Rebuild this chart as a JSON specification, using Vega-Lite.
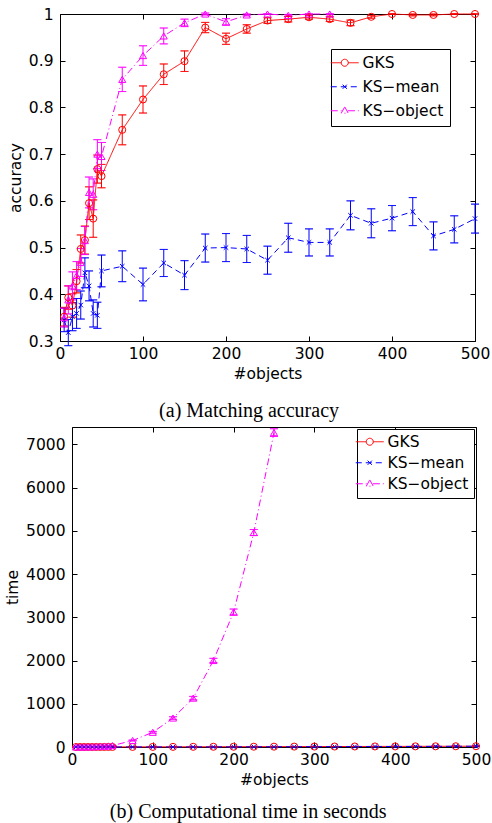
{
  "$schema": "https://vega.github.io/schema/vega-lite/v6.json",
  "background": "white",
  "padding": {"left": 5, "top": 7, "right": 5, "bottom": 5},
  "spacing": 5,
  "resolve": {"scale": {"color": "independent", "strokeDash": "independent", "shape": "independent"}, "legend": {"color": "independent", "strokeDash": "independent", "shape": "independent"}},
  "config": {
    "font": "DejaVu Sans",
    "view": {"stroke": null},
    "axis": {"domainColor": "black", "tickColor": "black", "labelColor": "black", "titleColor": "black", "labelFont": "DejaVu Sans", "titleFont": "DejaVu Sans", "labelFontSize": 15.5, "titleFontSize": 15.5, "titleFontWeight": "normal", "grid": false, "tickSize": -5, "domainWidth": 1, "tickWidth": 1, "labelFlush": false},
    "legend": {"title": null, "orient": "none", "fillColor": "white", "strokeColor": "black", "labelFont": "DejaVu Sans", "labelColor": "black", "labelOffset": 10, "symbolSize": 196, "symbolStrokeWidth": 1, "symbolFillColor": "transparent"}
  },
  "datasets": {
    "acc": [
      {"n": 5, "method": "GKS", "value": 0.352, "err": 0.02},
      {"n": 10, "method": "GKS", "value": 0.393, "err": 0.025},
      {"n": 15, "method": "GKS", "value": 0.376, "err": 0.025},
      {"n": 20, "method": "GKS", "value": 0.428, "err": 0.025},
      {"n": 25, "method": "GKS", "value": 0.497, "err": 0.03},
      {"n": 30, "method": "GKS", "value": 0.516, "err": 0.03},
      {"n": 35, "method": "GKS", "value": 0.595, "err": 0.035},
      {"n": 40, "method": "GKS", "value": 0.562, "err": 0.04},
      {"n": 45, "method": "GKS", "value": 0.668, "err": 0.03},
      {"n": 50, "method": "GKS", "value": 0.653, "err": 0.025},
      {"n": 75, "method": "GKS", "value": 0.752, "err": 0.032},
      {"n": 100, "method": "GKS", "value": 0.817, "err": 0.029},
      {"n": 125, "method": "GKS", "value": 0.871, "err": 0.022},
      {"n": 150, "method": "GKS", "value": 0.899, "err": 0.022},
      {"n": 175, "method": "GKS", "value": 0.971, "err": 0.011},
      {"n": 200, "method": "GKS", "value": 0.947, "err": 0.012},
      {"n": 225, "method": "GKS", "value": 0.968, "err": 0.009},
      {"n": 250, "method": "GKS", "value": 0.986, "err": 0.006},
      {"n": 275, "method": "GKS", "value": 0.989, "err": 0.006},
      {"n": 300, "method": "GKS", "value": 0.993, "err": 0.004},
      {"n": 325, "method": "GKS", "value": 0.989, "err": 0.005},
      {"n": 350, "method": "GKS", "value": 0.981, "err": 0.006},
      {"n": 375, "method": "GKS", "value": 0.994, "err": 0.003},
      {"n": 400, "method": "GKS", "value": 1.0, "err": 0},
      {"n": 425, "method": "GKS", "value": 0.998, "err": 0.002},
      {"n": 450, "method": "GKS", "value": 0.998, "err": 0.002},
      {"n": 475, "method": "GKS", "value": 1.0, "err": 0},
      {"n": 500, "method": "GKS", "value": 1.0, "err": 0},
      {"n": 5, "method": "KS−mean", "value": 0.345, "err": 0.025},
      {"n": 10, "method": "KS−mean", "value": 0.318, "err": 0.028},
      {"n": 15, "method": "KS−mean", "value": 0.352, "err": 0.03},
      {"n": 20, "method": "KS−mean", "value": 0.359, "err": 0.032},
      {"n": 25, "method": "KS−mean", "value": 0.377, "err": 0.03},
      {"n": 30, "method": "KS−mean", "value": 0.446, "err": 0.032},
      {"n": 35, "method": "KS−mean", "value": 0.418, "err": 0.032},
      {"n": 40, "method": "KS−mean", "value": 0.359, "err": 0.029},
      {"n": 45, "method": "KS−mean", "value": 0.355, "err": 0.028},
      {"n": 50, "method": "KS−mean", "value": 0.45, "err": 0.034},
      {"n": 75, "method": "KS−mean", "value": 0.46, "err": 0.033},
      {"n": 100, "method": "KS−mean", "value": 0.421, "err": 0.035},
      {"n": 125, "method": "KS−mean", "value": 0.467, "err": 0.029},
      {"n": 150, "method": "KS−mean", "value": 0.441, "err": 0.031},
      {"n": 175, "method": "KS−mean", "value": 0.499, "err": 0.03},
      {"n": 200, "method": "KS−mean", "value": 0.5, "err": 0.03},
      {"n": 225, "method": "KS−mean", "value": 0.497, "err": 0.029},
      {"n": 250, "method": "KS−mean", "value": 0.473, "err": 0.03},
      {"n": 275, "method": "KS−mean", "value": 0.521, "err": 0.031},
      {"n": 300, "method": "KS−mean", "value": 0.511, "err": 0.029},
      {"n": 325, "method": "KS−mean", "value": 0.511, "err": 0.029},
      {"n": 350, "method": "KS−mean", "value": 0.569, "err": 0.031},
      {"n": 375, "method": "KS−mean", "value": 0.552, "err": 0.031},
      {"n": 400, "method": "KS−mean", "value": 0.563, "err": 0.027},
      {"n": 425, "method": "KS−mean", "value": 0.577, "err": 0.03},
      {"n": 450, "method": "KS−mean", "value": 0.525, "err": 0.03},
      {"n": 475, "method": "KS−mean", "value": 0.539, "err": 0.029},
      {"n": 500, "method": "KS−mean", "value": 0.562, "err": 0.031},
      {"n": 5, "method": "KS−object", "value": 0.35, "err": 0.02},
      {"n": 10, "method": "KS−object", "value": 0.388, "err": 0.03},
      {"n": 15, "method": "KS−object", "value": 0.418, "err": 0.03},
      {"n": 20, "method": "KS−object", "value": 0.44, "err": 0.03},
      {"n": 25, "method": "KS−object", "value": 0.468, "err": 0.03},
      {"n": 30, "method": "KS−object", "value": 0.515, "err": 0.03},
      {"n": 35, "method": "KS−object", "value": 0.618, "err": 0.033},
      {"n": 40, "method": "KS−object", "value": 0.614, "err": 0.033},
      {"n": 45, "method": "KS−object", "value": 0.7, "err": 0.031},
      {"n": 50, "method": "KS−object", "value": 0.695, "err": 0.03},
      {"n": 75, "method": "KS−object", "value": 0.86, "err": 0.026},
      {"n": 100, "method": "KS−object", "value": 0.911, "err": 0.021},
      {"n": 125, "method": "KS−object", "value": 0.953, "err": 0.017},
      {"n": 150, "method": "KS−object", "value": 0.981, "err": 0.008},
      {"n": 175, "method": "KS−object", "value": 1.0, "err": 0.002},
      {"n": 200, "method": "KS−object", "value": 0.983, "err": 0.007},
      {"n": 225, "method": "KS−object", "value": 0.998, "err": 0.002},
      {"n": 250, "method": "KS−object", "value": 1.0, "err": 0},
      {"n": 275, "method": "KS−object", "value": 0.997, "err": 0.002},
      {"n": 300, "method": "KS−object", "value": 1.0, "err": 0},
      {"n": 325, "method": "KS−object", "value": 1.0, "err": 0}
    ],
    "time": [
      {"n": 5, "method": "GKS", "value": 0.05, "err": 0},
      {"n": 10, "method": "GKS", "value": 0.1, "err": 0},
      {"n": 15, "method": "GKS", "value": 0.2, "err": 0},
      {"n": 20, "method": "GKS", "value": 0.3, "err": 0},
      {"n": 25, "method": "GKS", "value": 0.4, "err": 0},
      {"n": 30, "method": "GKS", "value": 0.5, "err": 0},
      {"n": 35, "method": "GKS", "value": 0.6, "err": 0},
      {"n": 40, "method": "GKS", "value": 0.8, "err": 0},
      {"n": 45, "method": "GKS", "value": 0.9, "err": 0},
      {"n": 50, "method": "GKS", "value": 1.0, "err": 0},
      {"n": 75, "method": "GKS", "value": 1.8, "err": 0},
      {"n": 100, "method": "GKS", "value": 2.5, "err": 0},
      {"n": 125, "method": "GKS", "value": 3.3, "err": 0},
      {"n": 150, "method": "GKS", "value": 4.2, "err": 0},
      {"n": 175, "method": "GKS", "value": 5, "err": 0},
      {"n": 200, "method": "GKS", "value": 6, "err": 0},
      {"n": 225, "method": "GKS", "value": 7, "err": 0},
      {"n": 250, "method": "GKS", "value": 8, "err": 0},
      {"n": 275, "method": "GKS", "value": 9, "err": 0},
      {"n": 300, "method": "GKS", "value": 10, "err": 0},
      {"n": 325, "method": "GKS", "value": 11, "err": 0},
      {"n": 350, "method": "GKS", "value": 12, "err": 0},
      {"n": 375, "method": "GKS", "value": 13, "err": 0},
      {"n": 400, "method": "GKS", "value": 14, "err": 0},
      {"n": 425, "method": "GKS", "value": 15, "err": 0},
      {"n": 450, "method": "GKS", "value": 16, "err": 0},
      {"n": 475, "method": "GKS", "value": 17, "err": 0},
      {"n": 500, "method": "GKS", "value": 18, "err": 0},
      {"n": 5, "method": "KS−mean", "value": 0.01, "err": 0},
      {"n": 10, "method": "KS−mean", "value": 0.02, "err": 0},
      {"n": 15, "method": "KS−mean", "value": 0.03, "err": 0},
      {"n": 20, "method": "KS−mean", "value": 0.05, "err": 0},
      {"n": 25, "method": "KS−mean", "value": 0.07, "err": 0},
      {"n": 30, "method": "KS−mean", "value": 0.09, "err": 0},
      {"n": 35, "method": "KS−mean", "value": 0.12, "err": 0},
      {"n": 40, "method": "KS−mean", "value": 0.15, "err": 0},
      {"n": 45, "method": "KS−mean", "value": 0.18, "err": 0},
      {"n": 50, "method": "KS−mean", "value": 0.22, "err": 0},
      {"n": 75, "method": "KS−mean", "value": 0.45, "err": 0},
      {"n": 100, "method": "KS−mean", "value": 0.8, "err": 0},
      {"n": 125, "method": "KS−mean", "value": 1.2, "err": 0},
      {"n": 150, "method": "KS−mean", "value": 1.7, "err": 0},
      {"n": 175, "method": "KS−mean", "value": 2.3, "err": 0},
      {"n": 200, "method": "KS−mean", "value": 3, "err": 0},
      {"n": 225, "method": "KS−mean", "value": 3.8, "err": 0},
      {"n": 250, "method": "KS−mean", "value": 4.7, "err": 0},
      {"n": 275, "method": "KS−mean", "value": 5.6, "err": 0},
      {"n": 300, "method": "KS−mean", "value": 6.7, "err": 0},
      {"n": 325, "method": "KS−mean", "value": 7.8, "err": 0},
      {"n": 350, "method": "KS−mean", "value": 9, "err": 0},
      {"n": 375, "method": "KS−mean", "value": 10.3, "err": 0},
      {"n": 400, "method": "KS−mean", "value": 11.7, "err": 0},
      {"n": 425, "method": "KS−mean", "value": 13.2, "err": 0},
      {"n": 450, "method": "KS−mean", "value": 14.8, "err": 0},
      {"n": 475, "method": "KS−mean", "value": 16.5, "err": 0},
      {"n": 500, "method": "KS−mean", "value": 18.3, "err": 0},
      {"n": 5, "method": "KS−object", "value": 0.3, "err": 0.1},
      {"n": 10, "method": "KS−object", "value": 1, "err": 0.3},
      {"n": 15, "method": "KS−object", "value": 2, "err": 0.5},
      {"n": 20, "method": "KS−object", "value": 4, "err": 0.8},
      {"n": 25, "method": "KS−object", "value": 6, "err": 1},
      {"n": 30, "method": "KS−object", "value": 9, "err": 1.5},
      {"n": 35, "method": "KS−object", "value": 13, "err": 2},
      {"n": 40, "method": "KS−object", "value": 18, "err": 2.5},
      {"n": 45, "method": "KS−object", "value": 24, "err": 3},
      {"n": 50, "method": "KS−object", "value": 32, "err": 4},
      {"n": 75, "method": "KS−object", "value": 150, "err": 10},
      {"n": 100, "method": "KS−object", "value": 340, "err": 20},
      {"n": 125, "method": "KS−object", "value": 670, "err": 30},
      {"n": 150, "method": "KS−object", "value": 1130, "err": 40},
      {"n": 175, "method": "KS−object", "value": 2000, "err": 50},
      {"n": 200, "method": "KS−object", "value": 3120, "err": 70},
      {"n": 225, "method": "KS−object", "value": 4960, "err": 70},
      {"n": 250, "method": "KS−object", "value": 7270, "err": 90}
    ]
  },
  "vconcat": [
    {
      "width": 415,
      "height": 327,
      "data": {"name": "acc"},
      "title": {"text": "(a) Matching accuracy", "orient": "bottom", "anchor": "middle", "frame": "bounds", "font": "Liberation Serif", "fontSize": 20, "fontWeight": "normal", "color": "black", "offset": 19},
      "layer": [
        {
          "transform": [{"filter": "false"}],
          "mark": {"type": "point", "filled": false, "strokeWidth": 1, "opacity": 1},
          "encoding": {
            "x": {"field": "n", "type": "quantitative", "axis": null, "scale": {"domain": [0, 500], "nice": false}},
            "y": {"field": "value", "type": "quantitative", "axis": null, "scale": {"domain": [0.3, 1], "nice": false, "zero": false}},
            "color": {"field": "method", "type": "nominal", "scale": {"domain": ["GKS", "KS−mean", "KS−object"], "range": ["#ff0000", "#0000ff", "#ff00ff"]}, "legend": {"legendX": 271, "legendY": 35, "padding": 6, "labelFontSize": 15.5, "rowPadding": 7}},
            "strokeDash": {"field": "method", "type": "nominal", "scale": {"domain": ["GKS", "KS−mean", "KS−object"], "range": [[1, 0], [6, 4], [7, 3, 1, 3]]}, "legend": {"legendX": 271, "legendY": 35, "padding": 6, "labelFontSize": 15.5, "rowPadding": 7}},
            "shape": {"field": "method", "type": "nominal", "scale": {"domain": ["GKS", "KS−mean", "KS−object"], "range": ["M-2,0H-0.5M0.5,0H2M-0.5,0A0.5,0.5 0 1,1 0.5,0A0.5,0.5 0 1,1 -0.5,0", "M-2,0H2M-0.3,-0.3L0.3,0.3M-0.3,0.3L0.3,-0.3", "M-2,0H-0.45M0.45,0H2M0,-0.55L0.5,0.35H-0.5Z"]}, "legend": {"legendX": 271, "legendY": 35, "padding": 6, "labelFontSize": 15.5, "rowPadding": 7}}
          }
        },
        {
          "mark": {"type": "errorbar", "ticks": {"size": 8, "thickness": 0.01, "filled": false, "strokeWidth": 1}, "rule": {"strokeWidth": 1}, "clip": false},
          "encoding": {
            "x": {"field": "n", "type": "quantitative", "axis": null},
            "y": {"field": "value", "type": "quantitative", "axis": null},
            "yError": {"field": "err"},
            "color": {"field": "method", "type": "nominal"}
          }
        },
        {
          "mark": {"type": "line", "strokeWidth": 1},
          "encoding": {
            "x": {"field": "n", "type": "quantitative", "axis": {"orient": "bottom", "values": [0, 100, 200, 300, 400, 500], "format": "d", "title": "#objects", "labelPadding": 10, "titlePadding": 5}},
            "y": {"field": "value", "type": "quantitative", "axis": {"orient": "left", "values": [0.3, 0.4, 0.5, 0.6, 0.7, 0.8, 0.9, 1], "format": "~g", "title": "accuracy", "labelPadding": 12, "titlePadding": 5}},
            "color": {"field": "method", "type": "nominal"},
            "strokeDash": {"field": "method", "type": "nominal"}
          }
        },
        {
          "mark": {"type": "point", "filled": false, "strokeWidth": 1, "opacity": 1, "clip": false},
          "encoding": {
            "x": {"field": "n", "type": "quantitative", "axis": {"orient": "top", "values": [0, 100, 200, 300, 400, 500], "labels": false, "title": null}},
            "y": {"field": "value", "type": "quantitative", "axis": {"orient": "right", "values": [0.3, 0.4, 0.5, 0.6, 0.7, 0.8, 0.9, 1], "labels": false, "title": null}},
            "color": {"field": "method", "type": "nominal"},
            "shape": {"condition": [{"test": "datum.method === 'GKS'", "value": "circle"}, {"test": "datum.method === 'KS−object'", "value": "triangle-up"}], "value": "M-1,-1L1,1M-1,1L1,-1"},
            "size": {"condition": [{"test": "datum.method === 'GKS'", "value": 50}, {"test": "datum.method === 'KS−object'", "value": 50}], "value": 20}
          }
        }
      ],
      "resolve": {"axis": {"x": "independent", "y": "independent"}}
    },
    {
      "width": 416,
      "height": 320,
      "data": {"name": "time"},
      "title": {"text": "(b) Computational time in seconds", "orient": "bottom", "anchor": "middle", "frame": "bounds", "font": "Liberation Serif", "fontSize": 20, "fontWeight": "normal", "color": "black", "offset": 14},
      "layer": [
        {
          "transform": [{"filter": "false"}],
          "mark": {"type": "point", "filled": false, "strokeWidth": 1, "opacity": 1},
          "encoding": {
            "x": {"field": "n", "type": "quantitative", "axis": null, "scale": {"domain": [0, 500], "nice": false, "range": [12, 416]}},
            "y": {"field": "value", "type": "quantitative", "axis": null, "scale": {"domain": [0, 7400], "nice": false}},
            "color": {"field": "method", "type": "nominal", "scale": {"domain": ["GKS", "KS−mean", "KS−object"], "range": ["#ff0000", "#0000ff", "#ff00ff"]}, "legend": {"legendX": 297, "legendY": 2, "padding": 5, "labelFontSize": 15.5, "rowPadding": 4}},
            "strokeDash": {"field": "method", "type": "nominal", "scale": {"domain": ["GKS", "KS−mean", "KS−object"], "range": [[1, 0], [6, 4], [7, 3, 1, 3]]}, "legend": {"legendX": 297, "legendY": 2, "padding": 5, "labelFontSize": 15.5, "rowPadding": 4}},
            "shape": {"field": "method", "type": "nominal", "scale": {"domain": ["GKS", "KS−mean", "KS−object"], "range": ["M-2,0H-0.5M0.5,0H2M-0.5,0A0.5,0.5 0 1,1 0.5,0A0.5,0.5 0 1,1 -0.5,0", "M-2,0H2M-0.3,-0.3L0.3,0.3M-0.3,0.3L0.3,-0.3", "M-2,0H-0.45M0.45,0H2M0,-0.55L0.5,0.35H-0.5Z"]}, "legend": {"legendX": 297, "legendY": 2, "padding": 5, "labelFontSize": 15.5, "rowPadding": 4}}
          }
        },
        {
          "mark": {"type": "errorbar", "ticks": {"size": 8, "thickness": 0.01, "filled": false, "strokeWidth": 1}, "rule": {"strokeWidth": 1}, "clip": false},
          "encoding": {
            "x": {"field": "n", "type": "quantitative", "axis": null},
            "y": {"field": "value", "type": "quantitative", "axis": null},
            "yError": {"field": "err"},
            "color": {"field": "method", "type": "nominal"}
          }
        },
        {
          "mark": {"type": "line", "strokeWidth": 1},
          "encoding": {
            "x": {"field": "n", "type": "quantitative", "axis": {"orient": "bottom", "values": [0, 100, 200, 300, 400, 500], "format": "d", "title": "#objects", "labelPadding": 10, "titlePadding": 5}},
            "y": {"field": "value", "type": "quantitative", "axis": {"orient": "left", "offset": -12, "values": [0, 1000, 2000, 3000, 4000, 5000, 6000, 7000], "format": "d", "title": "time", "labelPadding": 12, "titlePadding": 5}},
            "color": {"field": "method", "type": "nominal"},
            "strokeDash": {"field": "method", "type": "nominal"}
          }
        },
        {
          "mark": {"type": "point", "filled": false, "strokeWidth": 1, "opacity": 1, "clip": false},
          "encoding": {
            "x": {"field": "n", "type": "quantitative", "axis": {"orient": "top", "values": [0, 100, 200, 300, 400, 500], "labels": false, "title": null}},
            "y": {"field": "value", "type": "quantitative", "axis": {"orient": "right", "values": [0, 1000, 2000, 3000, 4000, 5000, 6000, 7000], "labels": false, "title": null}},
            "color": {"field": "method", "type": "nominal"},
            "shape": {"condition": [{"test": "datum.method === 'GKS'", "value": "circle"}, {"test": "datum.method === 'KS−object'", "value": "triangle-up"}], "value": "M-1,-1L1,1M-1,1L1,-1"},
            "size": {"condition": [{"test": "datum.method === 'GKS'", "value": 50}, {"test": "datum.method === 'KS−object'", "value": 50}], "value": 20}
          }
        }
      ],
      "resolve": {"axis": {"x": "independent", "y": "independent"}}
    }
  ]
}
